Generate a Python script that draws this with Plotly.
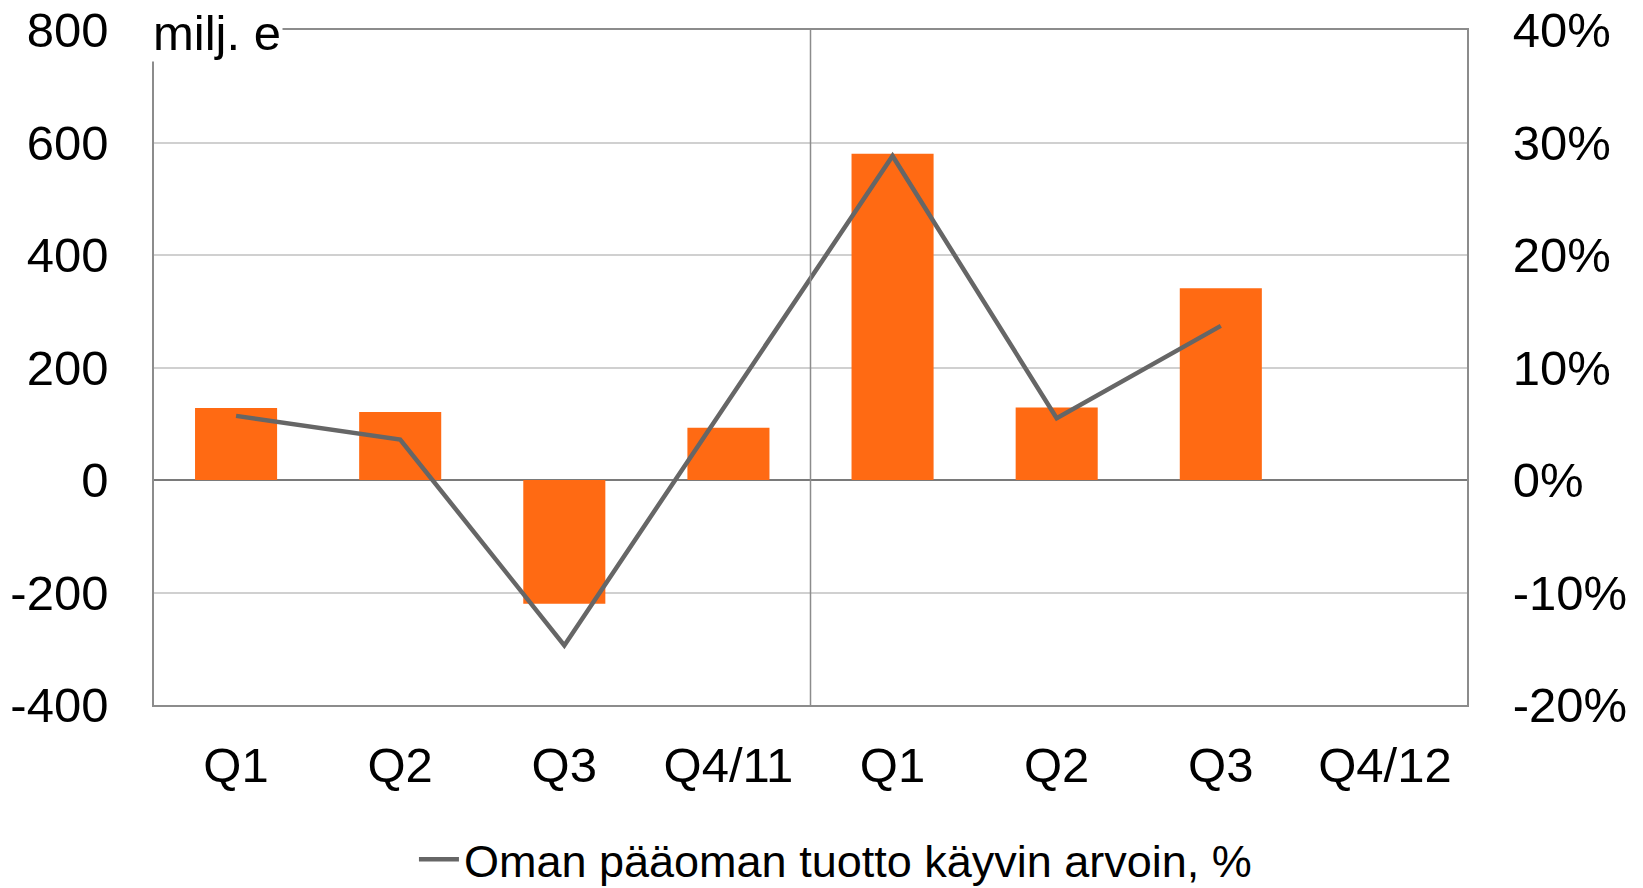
import plotly.graph_objects as go

categories = ["Q1", "Q2", "Q3", "Q4/11", "Q1", "Q2", "Q3", "Q4/12"]
bar_values = [128, 121, -220, 93, 580, 129, 341, None]
roe_values = [5.7, 3.6, -14.7, 7.0, 28.8, 5.5, 13.7, None]
left_ticks = [-400, -200, 0, 200, 400, 600, 800]
right_ticks = [-20, -10, 0, 10, 20, 30, 40]

xpos = list(range(len(categories)))
FONT = "Liberation Sans, Arial, sans-serif"
AXIS_GRAY = "#8c8c8c"

fig = go.Figure()
fig.add_trace(go.Bar(
    x=xpos, y=bar_values, marker=dict(color="#FF6A13", line=dict(width=0)),
    width=0.5, showlegend=False, name="milj. e",
))
fig.add_trace(go.Scatter(
    x=xpos, y=roe_values, yaxis="y2", mode="lines",
    line=dict(color="#666666", width=4.5),
    name="Oman pääoman tuotto käyvin arvoin, %",
))

fig.update_layout(
    width=1643, height=888,
    margin=dict(l=154, r=176, t=30, b=183, autoexpand=False),
    paper_bgcolor="white", plot_bgcolor="white",
    font=dict(family=FONT, size=49, color="black"),
    bargap=0.5,
    xaxis=dict(
        range=[-0.5, 7.5], tickvals=xpos, ticktext=categories,
        showline=True, linecolor=AXIS_GRAY, linewidth=1.5, mirror=True,
        showgrid=False, zeroline=False, automargin=False,
        ticks="outside", ticklen=16, tickcolor="rgba(0,0,0,0)",
        tickfont=dict(size=49),
    ),
    yaxis=dict(
        range=[-400, 800], tickvals=left_ticks,
        ticktext=[str(v) for v in left_ticks],
        showline=True, linecolor=AXIS_GRAY, linewidth=1.5, mirror=True,
        showgrid=True, gridcolor="#d0d0d0", gridwidth=1.5,
        zeroline=True, zerolinecolor="#7a7a7a", zerolinewidth=2,
        automargin=False, ticklabeloverflow="allow",
        ticks="outside", ticklen=34, tickcolor="rgba(0,0,0,0)",
        tickfont=dict(size=49),
    ),
    yaxis2=dict(
        range=[-20, 40], tickvals=right_ticks,
        ticktext=[f"{v}%" for v in right_ticks],
        overlaying="y", side="right", showgrid=False, zeroline=False,
        showline=False, automargin=False, ticklabeloverflow="allow",
        ticks="outside", ticklen=35, tickcolor="rgba(0,0,0,0)",
        tickfont=dict(size=49),
    ),
    legend=dict(
        orientation="h", x=0.519, xanchor="center", y=-0.229, yanchor="middle",
        font=dict(size=45), itemwidth=40,
    ),
    shapes=[dict(
        type="line", xref="x", yref="paper", x0=3.5, x1=3.5, y0=0, y1=1,
        line=dict(color=AXIS_GRAY, width=1.5),
    )],
    annotations=[dict(
        text="milj. e", xref="paper", yref="paper", x=0, y=1, xshift=-3,
        yshift=-3, xanchor="left", yanchor="middle", showarrow=False,
        bgcolor="white", borderpad=1, font=dict(size=49),
    )],
)

fig.write_html(
    "out.html",
    config={"displayModeBar": False},
    post_script="document.body.style.margin='0px';",
)
